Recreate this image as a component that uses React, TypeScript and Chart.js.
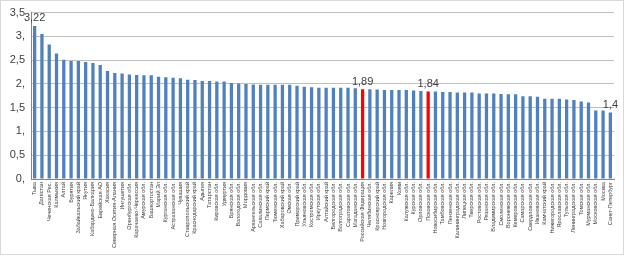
import React, { useEffect, useRef } from "react";
import { Chart, registerables } from "chart.js";

Chart.register(...registerables);

const regions: string[] = [
  "Тыва", "Дагестан", "Чеченская Рес.", "Калмыкия", "Алтай", "Бурятия", "Забайкальский край", "Якутия",
  "Кабардино-Балкария", "Еврейская АО", "Хакасия", "Северная Осетия-Алания", "Ингушетия", "Оренбургская обл.",
  "Карачаево-Черкессия", "Амурская обл.", "Башкортостан", "Марий Эл", "Курганская обл.", "Астраханская обл.",
  "Чувашия", "Ставропольский край", "Краснодарский край", "Адыгея", "Татарстан", "Кировская обл.",
  "Удмуртия", "Брянская обл.", "Вологодская обл.", "Мордовия", "Архангельская обл.", "Сахалинская обл.",
  "Пермский край", "Тюменская обл.", "Хабаровский край", "Омская обл.", "Приморский край", "Ульяновская обл.",
  "Костромская обл.", "Иркутская обл.", "Алтайский край", "Белгородская обл.", "Волгоградская обл.",
  "Саратовская обл.", "Магаданская обл.", "Российская Федерация", "Челябинская обл.", "Красноярский край",
  "Новгородская обл.", "Карелия", "Коми", "Калужская обл.", "Курская обл.", "Орловская обл.", "Псковская обл.",
  "Новосибирская обл.", "Тамбовская обл.", "Пензенская обл.", "Калининградская обл.", "Липецкая обл.",
  "Тверская обл.", "Ростовская обл.", "Рязанская обл.", "Владимирская обл.", "Смоленская обл.",
  "Воронежская обл.", "Кемеровская обл.", "Самарская обл.", "Свердловская обл.", "Ивановская обл.",
  "Камчатский край", "Нижегородская обл.", "Ярославская обл.", "Тульская обл.", "Ленинградская обл.",
  "Томская обл.", "Мурманская обл.", "Московская обл.", "Москва", "Санкт-Петербург",
];

const values: number[] = [
  3.22, 3.05, 2.83, 2.64, 2.51, 2.48, 2.48, 2.46, 2.44, 2.40,
  2.27, 2.23, 2.22, 2.20, 2.19, 2.18, 2.18, 2.15, 2.14, 2.13,
  2.12, 2.09, 2.08, 2.06, 2.06, 2.05, 2.05, 2.02, 2.01, 2.00,
  1.99, 1.98, 1.98, 1.98, 1.98, 1.98, 1.96, 1.94, 1.93, 1.92,
  1.92, 1.92, 1.92, 1.92, 1.91, 1.89, 1.89, 1.88, 1.87, 1.87,
  1.87, 1.87, 1.86, 1.85, 1.84, 1.84, 1.83, 1.83, 1.82, 1.82,
  1.82, 1.80, 1.80, 1.80, 1.79, 1.78, 1.78, 1.74, 1.74, 1.73,
  1.69, 1.69, 1.69, 1.67, 1.66, 1.63, 1.61, 1.44, 1.44, 1.40,
];

const highlighted: string[] = ["Российская Федерация", "Псковская обл."];
const labelledBars: string[] = ["Тыва", "Российская Федерация", "Псковская обл.", "Санкт-Петербург"];

const fmt = (v: number) => {
  const s = String(Math.round(v * 100) / 100).replace(".", ",");
  return Number.isInteger(v) ? s + "," : s;
};

const valueLabels = {
  id: "valueLabels",
  afterDatasetsDraw(chart: any) {
    const ctx = chart.ctx;
    const meta = chart.getDatasetMeta(0);
    ctx.save();
    ctx.font = "11px 'Liberation Sans', Arial, sans-serif";
    ctx.fillStyle = "#404040";
    ctx.textAlign = "center";
    ctx.textBaseline = "bottom";
    regions.forEach((r, i) => {
      if (!labelledBars.includes(r)) return;
      const el = meta.data[i];
      const v = values[i];
      const txt = v === 1.4 ? "1,4" : fmt(v);
      ctx.fillText(txt, el.x, el.y - 2);
    });
    ctx.restore();
  },
};

export default function App() {
  const ref = useRef<HTMLCanvasElement | null>(null);
  useEffect(() => {
    document.body.style.margin = "0";
    const chart = new Chart(ref.current as HTMLCanvasElement, {
      type: "bar",
      data: {
        labels: regions,
        datasets: [
          {
            data: values,
            backgroundColor: regions.map((r) => (highlighted.includes(r) ? "#ff0000" : "#4f81bd")),
            categoryPercentage: 1,
            barPercentage: 0.45,
          },
        ],
      },
      options: {
        animation: false,
        responsive: false,
        maintainAspectRatio: false,
        layout: { padding: { top: 10, right: 10, bottom: 2, left: 0 } },
        plugins: { legend: { display: false }, tooltip: { enabled: false } },
        scales: {
          x: {
            grid: { display: false, drawTicks: false },
            border: { color: "#868686" },
            ticks: {
              autoSkip: false,
              maxRotation: 90,
              minRotation: 90,
              padding: 3,
              color: "#404040",
              font: { size: 5.5, family: "'Liberation Sans', Arial, sans-serif" },
            },
            afterFit: (axis: any) => {
              axis.height = 75;
            },
          },
          y: {
            min: 0,
            max: 3.5,
            grid: { color: "#bfbfbf", drawTicks: false },
            border: { color: "#868686" },
            ticks: {
              stepSize: 0.5,
              padding: 6,
              color: "#404040",
              font: { size: 11, family: "'Liberation Sans', Arial, sans-serif" },
              callback: (v: any) => fmt(Number(v)),
            },
            afterFit: (axis: any) => {
              axis.width = 31;
            },
          },
        },
      },
      plugins: [valueLabels],
    });
    return () => chart.destroy();
  }, []);
  return (
    <div style={{ position: "relative", width: 624, height: 256 }}>
      <canvas ref={ref} width={624} height={256} style={{ display: "block" }} />
      <div
        style={{
          position: "absolute",
          left: 0,
          top: 0,
          width: 622,
          height: 253,
          border: "1px solid #d9d9d9",
          pointerEvents: "none",
        }}
      />
    </div>
  );
}
